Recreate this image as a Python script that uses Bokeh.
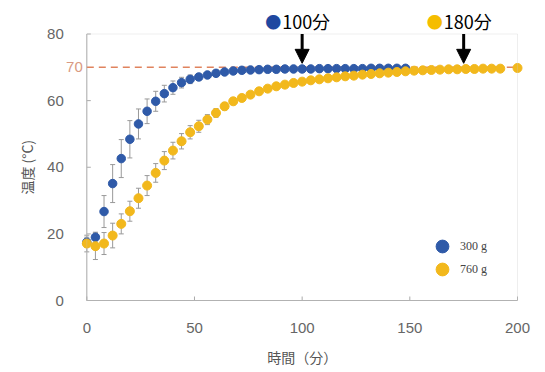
import math
from bokeh.plotting import figure
from bokeh.models import (ColumnDataSource, Whisker, TeeHead, Arrow, NormalHead,
                          BoxAnnotation, Legend, LegendItem, Range1d)
from bokeh.core.properties import value
from bokeh.embed import file_html
from bokeh.resources import INLINE

# ---------------- data ----------------
t_300 = list(range(0, 149, 4))
temp_300 = [17.5, 19.0, 26.7, 35.1, 42.6, 48.4, 53.0, 56.8, 59.8, 62.1,
            63.9, 65.4, 66.4, 67.1, 67.7, 68.2, 68.6, 68.9, 69.1, 69.2,
            69.3, 69.4, 69.4, 69.5, 69.5, 69.5, 69.5, 69.6, 69.6, 69.6,
            69.6, 69.6, 69.6, 69.7, 69.7, 69.7, 69.7, 69.7]
err_300 = [1.5, 1.5, 4.8, 5.7, 5.7, 5.6, 4.5, 3.7, 3.0, 2.5,
           2.0, 1.6, 1.3, 1.0, 0.8, 0.6, 0.5, 0.5, 0.4, 0.4,
           0.4, 0.3, 0.3, 0.3, 0.3, 0.3, 0.3, 0.3, 0.3, 0.3,
           0.3, 0.3, 0.3, 0.3, 0.3, 0.3, 0.3, 0.3]

t_760 = list(range(0, 193, 4)) + [200]
temp_760 = [17.1, 16.3, 17.1, 19.5, 23.0, 26.8, 30.7, 34.5, 38.3, 42.0,
            45.0, 47.8, 50.5, 52.3, 54.3, 56.3, 58.3, 59.8, 60.8, 61.8,
            62.8, 63.6, 64.3, 64.8, 65.3, 65.7, 66.1, 66.4, 66.7, 67.0,
            67.3, 67.5, 67.8, 68.0, 68.2, 68.4, 68.6, 68.8, 69.0, 69.1,
            69.2, 69.3, 69.4, 69.4, 69.5, 69.5, 69.6, 69.6, 69.6, 69.8]
err_760 = [2.5, 4.0, 3.3, 3.7, 3.0, 3.0, 3.0, 3.0, 2.8, 2.7,
           2.5, 2.3, 2.0, 1.8, 1.5, 1.3, 1.1, 1.0, 0.9, 0.8,
           0.7, 0.6, 0.5, 0.5, 0.5, 0.4, 0.4, 0.4, 0.4, 0.4,
           0.3, 0.3, 0.3, 0.3, 0.3, 0.3, 0.3, 0.3, 0.3, 0.3,
           0.3, 0.3, 0.3, 0.3, 0.3, 0.3, 0.3, 0.3, 0.3, 0.3]

series_labels = ["300 g", "760 g"]
target_temp = 70
y_ticks = [0, 20, 40, 60, 80]
x_ticks = [0, 50, 100, 150, 200]
x_title = "時間（分）"
y_title = "温度 (°C)"
marker_times = [100, 175]
marker_texts = ["100分", "180分"]

BLUE = "#2f5aa8"
YELLOW = "#f2b81c"
BLUE_TOP = "#1f48a0"
YELLOW_TOP = "#f5bd00"
GREY_TXT = "#666666"

# ---------------- layout (pixels) ----------------
W, H = 540, 368
X0, X1, Y0, Y1 = 0, 200, 0, 80          # visible plotting box in data units
BOX_L, BOX_T, BOX_W, BOX_H = 86.3, 33.5, 430.7, 266.5   # box position in canvas px
px_x = BOX_W / (X1 - X0)
px_y = BOX_H / (Y1 - Y0)
xr = Range1d(X0 - BOX_L / px_x, X1 + (W - BOX_L - BOX_W) / px_x)
yr = Range1d(Y0 - (H - BOX_T - BOX_H) / px_y, Y1 + BOX_T / px_y)

p = figure(width=W, height=H, output_backend="svg", toolbar_location=None,
           x_range=xr, y_range=yr, min_border=0)
p.axis.visible = False
p.grid.visible = False
p.outline_line_color = None
p.background_fill_color = "white"
p.border_fill_color = "white"

# box + axes lines
p.add_layout(BoxAnnotation(left=X0, right=X1, bottom=Y0, top=Y1, fill_alpha=0,
                           line_color="#c8c8c8", line_width=1))
p.segment(x0=[X0, X0], y0=[Y0, Y0], x1=[X1, X0], y1=[Y0, Y1], line_color="#aaaaaa", line_width=1)
TICK = 4
p.segment(x0=[X0] * len(y_ticks), y0=y_ticks, x1=[X0 + TICK / px_x] * len(y_ticks), y1=y_ticks,
          line_color="#aaaaaa")
p.segment(x0=x_ticks, y0=[Y0] * len(x_ticks), x1=x_ticks, y1=[Y0 + TICK / px_y] * len(x_ticks),
          line_color="#aaaaaa")

# tick labels and titles
p.text(x=[X0] * len(y_ticks), y=y_ticks, text=[str(v) for v in y_ticks], x_offset=-23,
       text_align="right", text_baseline="middle", text_color=GREY_TXT,
       text_font=value("Liberation Sans"), text_font_size="15px")
p.text(x=x_ticks, y=[Y0] * len(x_ticks), text=[str(v) for v in x_ticks], y_offset=27,
       text_align="center", text_baseline="middle", text_color=GREY_TXT,
       text_font=value("Liberation Sans"), text_font_size="15px")
p.text(x=[(X0 + X1) / 2], y=[Y0], text=[x_title], y_offset=56,
       text_align="center", text_baseline="middle", text_color="#555555",
       text_font=value("Noto Sans CJK JP"), text_font_size="14px")
p.text(x=[X0], y=[(Y0 + Y1) / 2], text=[y_title], x_offset=-60, angle=math.pi / 2,
       text_align="center", text_baseline="middle", text_color="#555555",
       text_font=value("Noto Sans CJK JP"), text_font_size="14px")

# target line + coloured label
p.segment(x0=[X0], y0=[target_temp], x1=[X1], y1=[target_temp], line_color="#e0835e",
          line_dash="7 5", line_width=1.5)
p.text(x=[X0], y=[target_temp], text=[str(target_temp)], x_offset=-4,
       text_align="right", text_baseline="middle", text_color="#d99a82",
       text_font=value("Liberation Sans"), text_font_size="15px")

src300 = ColumnDataSource(dict(t=t_300, y=temp_300,
                               up=[a + b for a, b in zip(temp_300, err_300)],
                               lo=[a - b for a, b in zip(temp_300, err_300)]))
src760 = ColumnDataSource(dict(t=t_760, y=temp_760,
                               up=[a + b for a, b in zip(temp_760, err_760)],
                               lo=[a - b for a, b in zip(temp_760, err_760)]))

def add_whisker(src):
    p.add_layout(Whisker(source=src, base="t", upper="up", lower="lo", line_color="#999999",
                         line_width=1,
                         upper_head=TeeHead(size=5, line_color="#999999", line_width=1),
                         lower_head=TeeHead(size=5, line_color="#999999", line_width=1)))

add_whisker(src300)
r300 = p.scatter("t", "y", source=src300, size=8.5, fill_color=BLUE, line_color=BLUE)
add_whisker(src760)
r760 = p.scatter("t", "y", source=src760, size=9, fill_color=YELLOW, line_color=YELLOW)

for i, (lab, r) in enumerate(zip(series_labels, [r300, r760])):
    lg = Legend(items=[LegendItem(label=lab, renderers=[r])],
                location=(426, 106 - 23 * i), glyph_width=32, glyph_height=32,
                padding=0, margin=0, label_standoff=2,
                border_line_color=None, background_fill_alpha=0,
                label_text_font="Liberation Serif", label_text_font_size="12px",
                label_text_color="#444444")
    p.add_layout(lg)

# markers above the plot
for tm in marker_times:
    p.add_layout(Arrow(end=NormalHead(size=14, fill_color="black", line_color="black"),
                       x_start=tm, y_start=Y1, x_end=tm, y_end=71.2,
                       line_color="black", line_width=3))
p.text(x=marker_times, y=[Y1] * len(marker_times), text=["●"] * len(marker_times),
       x_offset=-29, y_offset=-13, text_align="center", text_baseline="middle",
       text_color=[BLUE_TOP, YELLOW_TOP],
       text_font=value("Noto Sans CJK JP"), text_font_size="16px")
p.text(x=marker_times, y=[Y1] * len(marker_times), text=marker_texts,
       x_offset=-20, y_offset=-13, text_align="left", text_baseline="middle", text_color="black",
       text_font=value("Noto Sans CJK JP"), text_font_size="18px")

open("out.html", "w").write(file_html(p, INLINE))
